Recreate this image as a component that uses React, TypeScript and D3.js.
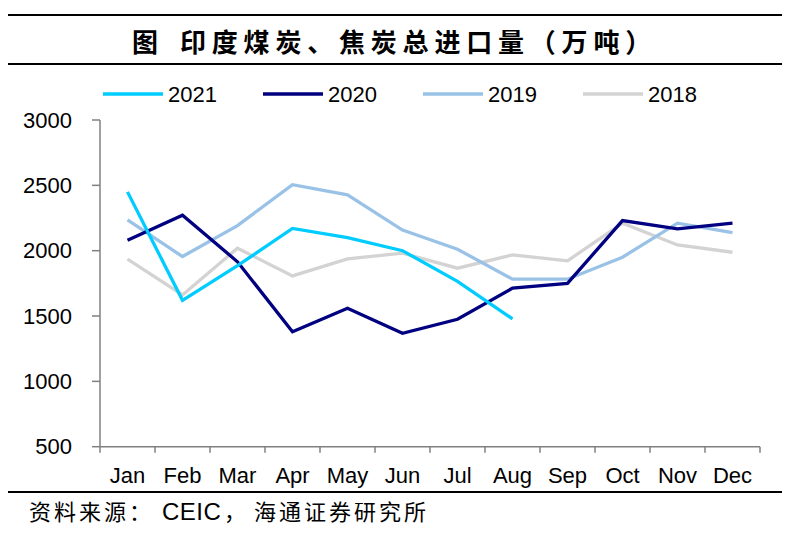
import * as d3 from "d3";

const months = ["Jan", "Feb", "Mar", "Apr", "May", "Jun", "Jul", "Aug", "Sep", "Oct", "Nov", "Dec"];
const yTicks = [500, 1000, 1500, 2000, 2500, 3000];

const years = ["2021", "2020", "2019", "2018"];
const colors = ["#00CCFF", "#000080", "#99C2E6", "#D3D3D3"];

const v2021 = [2450, 1620, 1885, 2170, 2100, 2000, 1765, 1478];
const v2020 = [2080, 2272, 1915, 1380, 1560, 1368, 1475, 1713, 1750, 2230, 2167, 2211];
const v2019 = [2236, 1955, 2192, 2505, 2427, 2158, 2011, 1782, 1782, 1950, 2211, 2139];
const v2018 = [1935, 1661, 2019, 1807, 1937, 1981, 1866, 1968, 1922, 2211, 2044, 1988];
const series = [v2021, v2020, v2019, v2018];

/** svg dimensions */
const width = 790;
const height = 534;
const left = 100;
const right = 760;
const top = 120;
const bottom = 446.7;

const font = "'Liberation Sans', Arial, sans-serif";
const cjk = "'Noto Sans CJK SC', sans-serif";

const App = () => {
  const x = d3.scaleBand<string>().domain(months).range([left, right]);
  const y = d3.scaleLinear().domain([500, 3000]).range([bottom, top]);

  const line = d3
    .line<number>()
    .x((_, i) => (x(months[i]) ?? 0) + x.bandwidth() / 2)
    .y((d) => y(d));

  const axisColor = "#808080";

  return (
    <svg
      width={width}
      height={height}
      viewBox={[0, 0, width, height].join(" ")}
      style={{ position: "absolute", left: 0, top: 0, background: "#fff" }}
    >
      {/* title rules */}
      <line x1={8} x2={782} y1={15} y2={15} stroke="#000" strokeWidth={2} />
      <line x1={8} x2={782} y1={64} y2={64} stroke="#000" strokeWidth={2} />
      <text
        x={132}
        y={52}
        style={{ fontFamily: cjk, fontSize: "26px", fontWeight: 700, letterSpacing: "5.8px" }}
      >
        <tspan>图</tspan>
        <tspan x={180}>印度煤炭、焦炭总进口量（万吨）</tspan>
      </text>

      {/* legend */}
      {years.map((yr, i) => (
        <g key={yr} transform={`translate(${103 + i * 160}, 94)`}>
          <line x1={0} x2={60} y1={0} y2={0} stroke={colors[i]} strokeWidth={3.3} />
          <text x={65} y={8} style={{ fontFamily: font, fontSize: "22px" }}>
            {yr}
          </text>
        </g>
      ))}

      {/* y axis */}
      <line x1={left} x2={left} y1={top} y2={bottom} stroke={axisColor} strokeWidth={1.5} />
      {yTicks.map((t) => (
        <g key={t}>
          <line x1={left - 8} x2={left} y1={y(t)} y2={y(t)} stroke={axisColor} strokeWidth={1.5} />
          <text
            x={left - 28}
            y={y(t) + 7.5}
            textAnchor="end"
            style={{ fontFamily: font, fontSize: "22px" }}
          >
            {t}
          </text>
        </g>
      ))}

      {/* x axis */}
      <line x1={left} x2={right} y1={bottom} y2={bottom} stroke={axisColor} strokeWidth={1.5} />
      {d3.range(months.length + 1).map((i) => {
        const xp = left + i * x.step();
        return (
          <line key={i} x1={xp} x2={xp} y1={bottom} y2={bottom + 6} stroke={axisColor} strokeWidth={1.5} />
        );
      })}
      {months.map((m) => (
        <text
          key={m}
          x={(x(m) ?? 0) + x.bandwidth() / 2}
          y={483}
          textAnchor="middle"
          style={{ fontFamily: font, fontSize: "22px" }}
        >
          {m}
        </text>
      ))}

      {/* series lines, drawn back to front */}
      {[3, 2, 1, 0].map((i) => (
        <path
          key={years[i]}
          d={line(series[i]) ?? ""}
          fill="none"
          stroke={colors[i]}
          strokeWidth={3.3}
          strokeLinejoin="miter"
        />
      ))}

      {/* source */}
      <line x1={8} x2={782} y1={492} y2={492} stroke="#000" strokeWidth={2} />
      <text x={29} y={520} style={{ fontFamily: cjk, fontSize: "22px", letterSpacing: "3px" }}>
        资料来源：
        <tspan x={162} style={{ fontFamily: font, fontSize: "24px", letterSpacing: "0.5px" }}>CEIC</tspan>
        <tspan x={224}>，</tspan>
        <tspan x={254}>海通证券研究所</tspan>
      </text>
    </svg>
  );
};

export default App;
